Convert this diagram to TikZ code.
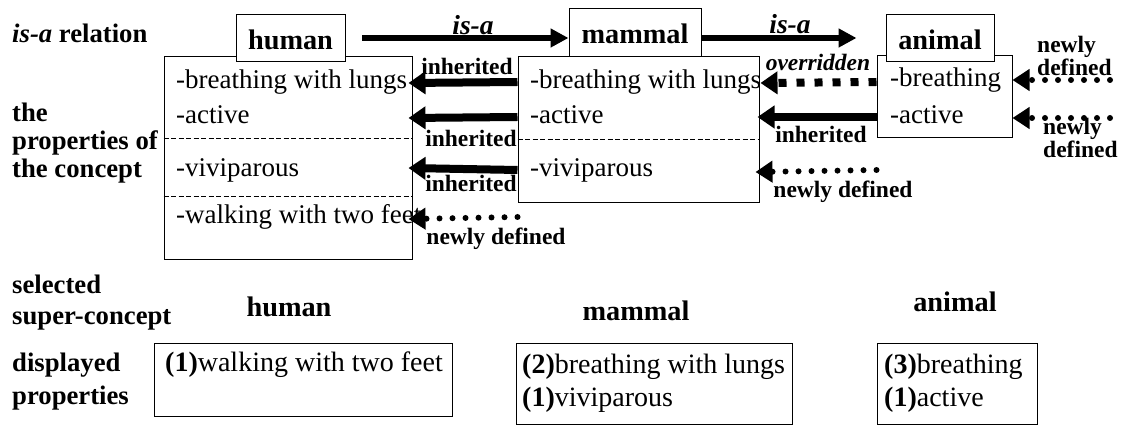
\documentclass[tikz,border=0pt]{standalone}
\usepackage{fontspec}
\setmainfont{Liberation Serif}
\usetikzlibrary{arrows.meta, positioning, calc}

\begin{document}
\begin{tikzpicture}[x=1pt, y=-1pt,
  proptext/.style={anchor=west, inner sep=0pt, font=\fontsize{27}{30}\selectfont, text height=19pt, text depth=5.5pt},
  showntext/.style={anchor=west, inner sep=0pt, font=\fontsize{28}{30}\selectfont, text height=19.6pt, text depth=5.6pt},
  sidelabel/.style={anchor=west, inner sep=0pt, font=\bfseries\fontsize{26.7}{30}\selectfont, text height=19pt, text depth=5.5pt},
  smalllabel/.style={inner sep=0pt, font=\bfseries\fontsize{23.5}{26}\selectfont, text height=16.5pt, text depth=5pt},
  isalabel/.style={inner sep=0pt, font=\bfseries\itshape\fontsize{27.5}{30}\selectfont, text height=19pt, text depth=5.5pt},
  conceptlabel/.style={inner sep=0pt, font=\bfseries\fontsize{28.3}{32}\selectfont, text height=20pt, text depth=5.6pt},
  titlebox/.style={draw, fill=white, line width=1pt, inner sep=0pt, font=\bfseries\fontsize{28.3}{32}\selectfont, text height=22pt, text depth=0pt},
  bigbox/.style={draw, line width=1pt, inner sep=0pt},
  sepline/.style={line width=0.8pt, dash pattern=on 5pt off 2.5pt},
  isaarrow/.style={line width=6pt, -{Triangle[length=18pt, width=18pt]}},
  inharrow/.style={line width=8pt, -{Triangle[length=17pt, width=22pt]}},
  overarrow/.style={line width=8pt, dash pattern=on 8pt off 10pt, -{Triangle[length=17pt, width=22pt]}},
  newarrow/.style={line width=6pt, line cap=round, dash pattern=on 0pt off 13pt, -{Triangle[length=17pt, width=21pt]}}
]

\useasboundingbox (0,0) rectangle (1122,427);

% row labels on the left
\node[sidelabel] (lisa) at (12,36) {\textit{is-a} relation};
\node[sidelabel] (lthe) at (12,115) {the};
\node[sidelabel] (lprop) at (12,143) {properties of};
\node[sidelabel] (lconc) at (12,171) {the concept};
\node[sidelabel] (lsel) at (12,287) {selected};
\node[sidelabel] (lsup) at (12,318) {super-concept};
\node[sidelabel] (ldisp) at (12,365) {displayed};
\node[sidelabel] (lprops) at (12,398) {properties};

% property boxes
\node[bigbox, minimum width=248pt, minimum height=203pt] (humanp) at (288,158.5) {};
\node[bigbox, minimum width=241pt, minimum height=146pt] (mammalp) at (638.5,130) {};
\node[bigbox, minimum width=135pt, minimum height=82pt] (animalp) at (944.5,97) {};

\draw[sepline] (humanp.west |- 0,138) -- (humanp.east |- 0,138);
\draw[sepline] (humanp.west |- 0,196) -- (humanp.east |- 0,196);
\draw[sepline] (mammalp.west |- 0,139) -- (mammalp.east |- 0,139);

\node[proptext] (hbreath) at (176,82) {-breathing with lungs};
\node[proptext] (hactive) at (176,117) {-active};
\node[proptext] (hvivi) at (176,170) {-viviparous};
\node[proptext] (hwalk) at (176,217) {-walking with two feet};

\node[proptext] (mbreath) at (530,82) {-breathing with lungs};
\node[proptext] (mactive) at (530,117) {-active};
\node[proptext] (mvivi) at (530,170) {-viviparous};

\node[proptext] (abreath) at (890,80) {-breathing};
\node[proptext] (aactive) at (890,117) {-active};

% concept names
\node[titlebox, minimum width=109pt, minimum height=47pt] (humant) at (290.5,38.5) {human};
\node[titlebox, minimum width=132pt, minimum height=48pt] (mammalt) at (635,33) {mammal};
\node[titlebox, minimum width=108pt, minimum height=47pt] (animalt) at (940,38.5) {animal};

% is-a arrows
\coordinate (isastart) at (362,38);
\draw[isaarrow] (isastart) -- (mammalt.west |- isastart);
\draw[isaarrow] (mammalt.east |- isastart) -- ($(animalt.west |- isastart)+(-29,0)$);
\node[isalabel] (isa1) at (473,28) {is-a};
\node[isalabel] (isa2) at (790,27) {is-a};

% from mammal to human
\draw[inharrow] (mammalp.west |- hbreath) -- ($(humanp.east |- hbreath)+(-4,1)$);
\draw[inharrow] (mammalp.west |- hactive) -- ($(humanp.east |- hactive)+(-4,1)$);
\draw[inharrow] (mammalp.west |- hvivi) -- ($(humanp.east |- hvivi)+(-4,-2)$);
\draw[newarrow] (mammalp.west |- hwalk) -- ($(humanp.east |- hwalk)+(-4,2)$);
\node[smalllabel] (inh1) at (467,69) {inherited};
\node[smalllabel] (inh2) at (471,141) {inherited};
\node[smalllabel] (inh3) at (471,186) {inherited};
\node[smalllabel] (new1) at (496,239) {newly defined};

% from animal to mammal
\draw[overarrow] (animalp.west |- mbreath) -- ($(mammalp.east |- mbreath)+(1,1)$);
\draw[inharrow] (animalp.west |- mactive) -- ($(mammalp.east |- mactive)+(-2,0)$);
\draw[newarrow] (animalp.west |- mvivi) -- ($(mammalp.east |- mvivi)+(-4,2)$);
\node[smalllabel, font=\bfseries\itshape\fontsize{23.5}{26}\selectfont] (over) at (818,65) {overridden};
\node[smalllabel] (inh4) at (821,137) {inherited};
\node[smalllabel] (new2) at (843,192) {newly defined};

% newly defined in animal
\coordinate (abreathsrc) at (1110,80);
\coordinate (aactivesrc) at (1110,118);
\draw[newarrow] (abreathsrc) -- (animalp.east |- abreathsrc);
\draw[newarrow] (aactivesrc) -- (animalp.east |- aactivesrc);
\node[smalllabel, anchor=west] (new3a) at (1037,47) {newly};
\node[smalllabel, anchor=west] (new3b) at (1037,70) {defined};
\node[smalllabel, anchor=west] (new4a) at (1043,129) {newly};
\node[smalllabel, anchor=west] (new4b) at (1043,152) {defined};

% selected super-concepts and displayed properties
\node[conceptlabel] (bhuman) at (289,309) {human};
\node[conceptlabel] (bmammal) at (636,313) {mammal};
\node[conceptlabel] (banimal) at (955,304) {animal};

\node[bigbox, minimum width=298pt, minimum height=73pt] (humans) at (303,380.5) {};
\node[bigbox, minimum width=276pt, minimum height=81pt] (mammals) at (654,384.5) {};
\node[bigbox, minimum width=160pt, minimum height=81pt] (animals) at (957,384.5) {};

\node[showntext] (hshow) at (165,365) {\textbf{(1)}walking with two feet};
\node[showntext] (mshow1) at (522,367) {\textbf{(2)}breathing with lungs};
\node[showntext] (mshow2) at (522,400) {\textbf{(1)}viviparous};
\node[showntext] (ashow1) at (884,367) {\textbf{(3)}breathing};
\node[showntext] (ashow2) at (884,400) {\textbf{(1)}active};

\end{tikzpicture}
\end{document}
